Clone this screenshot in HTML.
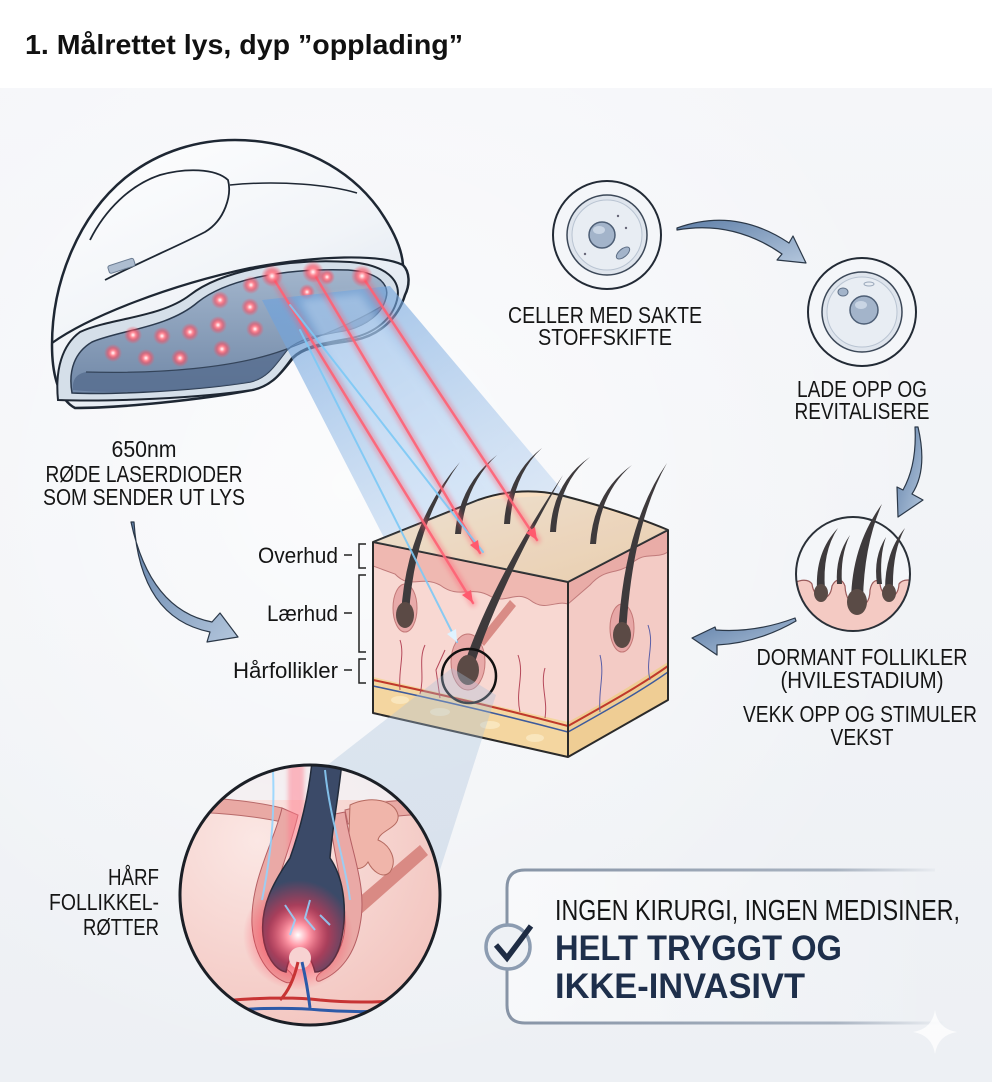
<!DOCTYPE html>
<html><head><meta charset="utf-8"><style>html,body{margin:0;padding:0;background:#fff}svg{display:block}</style></head>
<body>
<svg width="992" height="1087" viewBox="0 0 992 1087" xmlns="http://www.w3.org/2000/svg" font-family="'Liberation Sans', sans-serif">
<defs>
 <linearGradient id="bg" x1="0" y1="0" x2="0" y2="1"><stop offset="0" stop-color="#f5f6f9"/><stop offset="1" stop-color="#edf0f4"/></linearGradient>
 <radialGradient id="bgglow" cx="0.35" cy="0.4" r="0.6"><stop offset="0" stop-color="#fff" stop-opacity="0.7"/><stop offset="1" stop-color="#fff" stop-opacity="0"/></radialGradient>
 <linearGradient id="shell" x1="0" y1="0" x2="0.6" y2="1"><stop offset="0" stop-color="#ffffff"/><stop offset="0.6" stop-color="#f1f4f8"/><stop offset="1" stop-color="#dce4ee"/></linearGradient>
 <linearGradient id="cav" x1="0" y1="0" x2="0" y2="1"><stop offset="0" stop-color="#a2b5cc"/><stop offset="1" stop-color="#7188a7"/></linearGradient>
 <radialGradient id="led"><stop offset="0" stop-color="#fff"/><stop offset="0.3" stop-color="#ff8a96"/><stop offset="0.6" stop-color="#ff4a5c" stop-opacity="0.55"/><stop offset="1" stop-color="#ff4a5c" stop-opacity="0"/></radialGradient>
 <linearGradient id="beam" gradientUnits="userSpaceOnUse" x1="320" y1="290" x2="500" y2="600"><stop offset="0" stop-color="#6ea2dc" stop-opacity="0.65"/><stop offset="1" stop-color="#a9c9ee" stop-opacity="0.25"/></linearGradient>
 <linearGradient id="arr" x1="0" y1="0" x2="1" y2="1"><stop offset="0" stop-color="#5f7fa8"/><stop offset="1" stop-color="#b3c6dc"/></linearGradient>
 <linearGradient id="top" x1="0" y1="0" x2="1" y2="1"><stop offset="0" stop-color="#fae5cd"/><stop offset="1" stop-color="#f4cfa6"/></linearGradient>
 <radialGradient id="zbg" cx="0.3" cy="0.3" r="0.8"><stop offset="0" stop-color="#fbe7e4"/><stop offset="1" stop-color="#f2c3bd"/></radialGradient>
 <radialGradient id="hot"><stop offset="0" stop-color="#fff"/><stop offset="0.2" stop-color="#ff9aa8"/><stop offset="0.55" stop-color="#ff3550" stop-opacity="0.55"/><stop offset="1" stop-color="#ff3550" stop-opacity="0"/></radialGradient>
 <linearGradient id="boxline" x1="0" y1="0" x2="1" y2="0"><stop offset="0" stop-color="#8794a6"/><stop offset="0.75" stop-color="#a9b3c1"/><stop offset="1" stop-color="#a9b3c1" stop-opacity="0"/></linearGradient>
 <linearGradient id="boxfill" x1="0" y1="0" x2="1" y2="0"><stop offset="0" stop-color="#fff" stop-opacity="0.5"/><stop offset="1" stop-color="#fff" stop-opacity="0"/></linearGradient>
 <filter id="b4" x="-50%" y="-50%" width="200%" height="200%"><feGaussianBlur stdDeviation="4"/></filter>
 <filter id="b2" x="-50%" y="-50%" width="200%" height="200%"><feGaussianBlur stdDeviation="2"/></filter>
 <clipPath id="zc"><circle cx="310" cy="895" r="130"/></clipPath>
 <clipPath id="dc"><circle cx="853" cy="574" r="57"/></clipPath>
 <clipPath id="front"><path d="M373,542 L568,582 L568,757 L373,713 Z"/></clipPath>
 <clipPath id="right"><path d="M568,582 L668,530 L668,700 L568,757 Z"/></clipPath>
</defs>

<rect width="992" height="1087" fill="#fff"/>
<rect x="0" y="88" width="992" height="994" fill="url(#bg)"/>
<rect x="0" y="88" width="992" height="994" fill="url(#bgglow)"/>

<text x="25" y="54" font-size="28" font-weight="bold" fill="#111" textLength="438" lengthAdjust="spacingAndGlyphs">1. Målrettet lys, dyp ”opplading”</text>

<!-- HELMET -->
<path d="M75,408 C60,400 52,378 52,345 C52,280 80,215 125,178 C160,150 200,140 235,140 C300,140 350,170 378,208 C395,232 402,250 403,265 C410,272 410,285 405,295 C398,318 380,335 355,340 C325,345 305,346 293,358 C282,372 272,386 252,390 C200,400 120,408 75,408 Z" fill="url(#shell)" stroke="#1e2733" stroke-width="2.5"/>
<path d="M105,280 C140,262 180,245 205,232 C225,220 232,195 228,180 C215,168 185,168 160,175 C130,185 105,210 90,240" fill="none" stroke="#1e2733" stroke-width="1.8"/>
<path d="M230,185 C280,180 330,185 357,193" fill="none" stroke="#1e2733" stroke-width="1.5"/>
<rect x="108" y="262" width="27" height="8" rx="2" transform="rotate(-18 121 266)" fill="#aebdd0" stroke="#6c7d93"/>
<path d="M52,343 C90,316 170,285 250,268 C320,255 380,254 403,265" fill="none" stroke="#1e2733" stroke-width="2.2"/>
<path d="M58,400 C55,370 62,345 80,332 C110,318 160,318 190,295 C222,270 290,258 350,262 C386,265 402,280 397,300 C392,320 374,333 352,338 C326,343 305,345 292,358 C282,372 272,386 252,390 C200,398 110,402 58,400 Z" fill="#d5dfe9" stroke="#1e2733" stroke-width="2"/>
<path d="M72,393 C68,370 75,352 92,342 C120,330 168,328 198,302 C228,278 290,268 348,270 C378,272 390,284 386,298 C382,314 366,325 348,330 C322,335 302,337 287,350 C276,364 268,378 250,382 C200,390 120,395 72,393 Z" fill="url(#cav)" stroke="#2b3a4e" stroke-width="1.5"/>
<path d="M73,390 C72,380 76,374 86,372 C160,374 235,368 284,350 C318,337 352,324 382,306 C378,316 366,325 348,330 C322,335 302,337 287,350 C276,364 268,378 250,382 C200,390 120,395 73,390 Z" fill="#566d8f" opacity="0.8"/>
<path d="M86,372 C160,374 235,368 284,350 C318,337 352,324 382,306" fill="none" stroke="#34445a" stroke-width="1.2"/>
<g>
 <circle cx="113" cy="353" r="9" fill="url(#led)"/><circle cx="133" cy="335" r="9" fill="url(#led)"/>
 <circle cx="146" cy="358" r="9" fill="url(#led)"/><circle cx="162" cy="336" r="9" fill="url(#led)"/>
 <circle cx="180" cy="358" r="9" fill="url(#led)"/><circle cx="190" cy="332" r="9" fill="url(#led)"/>
 <circle cx="220" cy="300" r="9" fill="url(#led)"/><circle cx="218" cy="325" r="9" fill="url(#led)"/>
 <circle cx="222" cy="349" r="9" fill="url(#led)"/><circle cx="250" cy="307" r="9" fill="url(#led)"/>
 <circle cx="255" cy="329" r="9" fill="url(#led)"/><circle cx="251" cy="285" r="9" fill="url(#led)"/>
 <circle cx="307" cy="292" r="8" fill="url(#led)"/><circle cx="327" cy="277" r="8" fill="url(#led)"/>
</g>

<!-- BEAM -->
<path d="M262,300 L390,286 L596,530 L398,565 Z" fill="url(#beam)"/>
<path d="M300,300 L360,294 L520,520 L430,545 Z" fill="#d7e8fb" opacity="0.35" filter="url(#b4)"/>

<!-- CUBE -->
<path d="M373,542 L478,500 C500,492 530,488 560,495 C600,505 640,518 668,530 L568,582 Z" fill="url(#top)"/>
<g clip-path="url(#front)">
 <rect x="370" y="530" width="200" height="230" fill="#f8d8d2"/>
 <path d="M373,542 L568,582 L568,604 C555,600 545,612 530,600 C515,590 505,605 490,596 C470,585 460,600 440,585 C420,575 410,590 395,574 L373,566 Z" fill="#efb8b1" stroke="#c07a7a" stroke-width="1"/>
 <path d="M373,677 C420,688 470,700 568,722 L568,760 L373,720 Z" fill="#f4d6a0"/>
 <ellipse cx="400" cy="700" rx="9" ry="4" fill="#f9e6bd"/><ellipse cx="440" cy="712" rx="10" ry="4" fill="#f9e6bd"/>
 <ellipse cx="490" cy="725" rx="10" ry="4" fill="#f9e6bd"/><ellipse cx="535" cy="738" rx="9" ry="4" fill="#f9e6bd"/>
 <path d="M373,680 C430,692 500,708 568,726" fill="none" stroke="#c0392b" stroke-width="2"/>
 <path d="M373,686 C430,698 500,714 568,732" fill="none" stroke="#3d5a9c" stroke-width="1.5"/>
 <path d="M400,690 C398,670 405,655 400,640 M420,694 C425,675 418,660 425,645 M440,698 L436,670 L445,650 M520,712 C515,690 525,675 518,655 M545,718 C548,700 540,685 545,668" fill="none" stroke="#b5485a" stroke-width="1"/>
 <path d="M478,640 L510,600 L516,606 L484,646 Z" fill="#d98c86"/>
</g>
<g clip-path="url(#right)">
 <rect x="565" y="525" width="106" height="235" fill="#f3cbc5"/>
 <path d="M568,582 L668,530 L668,552 C655,560 645,550 630,565 C615,575 605,568 590,585 L568,604 Z" fill="#e9aca7" stroke="#c07a7a" stroke-width="1"/>
 <path d="M568,722 C600,705 640,680 668,662 L668,705 L568,760 Z" fill="#efcd94"/>
 <path d="M568,726 C600,708 640,686 668,666" fill="none" stroke="#c0392b" stroke-width="2"/>
 <path d="M568,732 C600,714 640,692 668,672" fill="none" stroke="#3d5a9c" stroke-width="1.5"/>
 <path d="M600,712 C598,690 605,675 600,655 M650,680 C645,660 655,645 648,625" fill="none" stroke="#5a5fa8" stroke-width="1"/>
</g>
<path d="M373,542 L478,500 C500,492 530,488 560,495 C600,505 640,518 668,530 L668,700 L568,757 L373,713 Z M373,542 L568,582 L668,530 M568,582 L568,757" fill="none" stroke="#2a2a2a" stroke-width="2" stroke-linejoin="round"/>
<path d="M373,542 L568,582 L668,530 L560,495 L478,500 Z" fill="#9cc3ee" opacity="0.12"/>

<!-- follicles & hairs -->
<ellipse cx="468" cy="662" rx="17" ry="28" fill="#e59f9f" stroke="#b86363" opacity="0.8"/>
<ellipse cx="405" cy="608" rx="12" ry="24" fill="#e59f9f" stroke="#b86363" opacity="0.8"/>
<ellipse cx="622" cy="628" rx="12" ry="24" fill="#e59f9f" stroke="#b86363" opacity="0.8"/>
<g fill="#3e3a3c">
 <path d="M463,668 Q490,585 563,475 Q500,585 473,668 Z"/>
 <path d="M401,615 Q406,525 460,462 Q414,525 409,615 Z"/>
 <path d="M618,635 Q624,525 667,463 Q632,525 626,635 Z"/>
 <path d="M455,534 Q459,485 497,455 Q465,485 461,534 Z"/>
 <path d="M504,524 Q507,475 542,448 Q513,475 510,524 Z"/>
 <path d="M550,532 Q553,482 590,457 Q559,482 556,532 Z"/>
 <path d="M590,544 Q594,492 632,465 Q600,492 596,544 Z"/>
</g>
<ellipse cx="468" cy="670" rx="11" ry="15" fill="#5b4a45"/>
<ellipse cx="405" cy="615" rx="9" ry="13" fill="#5b4a45"/>
<ellipse cx="622" cy="635" rx="9" ry="13" fill="#5b4a45"/>
<circle cx="469" cy="676" r="27" fill="none" stroke="#111" stroke-width="2.5"/>

<!-- LASER LINES -->
<g stroke-linecap="round">
 <g stroke="#ff5a6e" stroke-width="8" opacity="0.35" filter="url(#b2)">
  <line x1="272" y1="276" x2="473" y2="603"/><line x1="313" y1="272" x2="480" y2="553"/><line x1="362" y1="276" x2="537" y2="540"/>
 </g>
 <line x1="272" y1="276" x2="473" y2="603" stroke="#ff6275" stroke-width="2.5" opacity="0.9"/>
 <line x1="313" y1="272" x2="480" y2="553" stroke="#ff6275" stroke-width="2.5" opacity="0.9"/>
 <line x1="362" y1="276" x2="537" y2="540" stroke="#ff6275" stroke-width="2.5" opacity="0.9"/>
 <line x1="290" y1="305" x2="483" y2="552" stroke="#7dc9f6" stroke-width="2" opacity="0.9"/>
 <line x1="300" y1="330" x2="457" y2="642" stroke="#7dc9f6" stroke-width="2" opacity="0.9"/>
</g>
<polygon points="473,603 471,590 462,595" fill="#ff5a6e"/>
<polygon points="480,553 478,540 470,545" fill="#ff5a6e"/>
<polygon points="537,540 535,527 526,533" fill="#ff5a6e"/>
<polygon points="457,642 456,629 447,634" fill="#dff3ff"/>
<circle cx="272" cy="276" r="11" fill="url(#led)"/><circle cx="313" cy="272" r="11" fill="url(#led)"/><circle cx="362" cy="276" r="11" fill="url(#led)"/>

<!-- left labels -->
<g font-size="23.5" fill="#151515" text-anchor="middle">
 <text x="144" y="457" textLength="65" lengthAdjust="spacingAndGlyphs">650nm</text>
 <text x="144" y="482" textLength="197" lengthAdjust="spacingAndGlyphs">RØDE LASERDIODER</text>
 <text x="144" y="505" textLength="202" lengthAdjust="spacingAndGlyphs">SOM SENDER UT LYS</text>
</g>
<path d="M131,522 Q150,610 212,622 L220,613 L238,637 L207,642 L210,632 Q140,618 134,522 Z" fill="url(#arr)" stroke="#2b3848" stroke-width="1.2" stroke-linejoin="round"/>

<g font-size="22.5" fill="#151515" text-anchor="end">
 <text x="338" y="563" textLength="80" lengthAdjust="spacingAndGlyphs">Overhud</text>
 <text x="338" y="621" textLength="71" lengthAdjust="spacingAndGlyphs">Lærhud</text>
 <text x="338" y="678" textLength="105" lengthAdjust="spacingAndGlyphs">Hårfollikler</text>
</g>
<g fill="none" stroke="#222" stroke-width="1.5">
 <path d="M344,555 L352,555 M366,544 L359,544 L359,568 L366,568"/>
 <path d="M344,613 L352,613 M366,575 L359,575 L359,652 L366,652"/>
 <path d="M344,670 L352,670 M366,659 L359,659 L359,683 L366,683"/>
</g>

<!-- CONE -->
<path d="M452,668 L496,695 L440,870 L180,880 Z" fill="#aac0da" opacity="0.35"/>

<!-- ZOOM CIRCLE -->
<g clip-path="url(#zc)">
 <rect x="175" y="760" width="275" height="270" fill="url(#zbg)"/>
 <rect x="175" y="760" width="275" height="40" fill="#f3f4f8" opacity="0.8"/>
 <path d="M175,795 C210,798 250,800 282,808 L282,822 C250,815 210,812 175,812 Z" fill="#e9a9a4" stroke="#b86a6a"/>
 <path d="M345,810 C380,800 420,798 445,800 L445,815 C420,813 385,816 348,824 Z" fill="#e9a9a4" stroke="#b86a6a"/>
 <path d="M350,905 L420,845 L428,855 L360,915 Z" fill="#d98a84"/>
 <path d="M350,805 C370,795 395,800 398,815 C400,828 380,830 378,840 C390,845 398,860 390,872 C382,880 372,870 368,862 C362,872 350,870 348,860 Z" fill="#f0b5aa" stroke="#b56a60"/>
 <path d="M282,808 C275,840 250,880 252,925 C254,955 268,975 285,982 C292,985 296,978 290,972 C275,960 268,940 270,920 C272,890 290,850 298,815 Z" fill="#eaa9a6" stroke="#b55f63"/>
 <path d="M345,812 C350,850 368,885 360,925 C355,955 340,972 322,980 C316,984 314,978 320,973 C335,962 345,945 345,922 C345,890 332,850 330,815 Z" fill="#eaa9a6" stroke="#b55f63"/>
 <rect x="288" y="762" width="16" height="150" fill="#ff7b8c" opacity="0.5" filter="url(#b2)"/>
 <path d="M312,762 L342,762 C338,800 332,830 330,858 C345,880 348,915 340,945 C335,962 325,972 315,972 C312,960 306,950 300,950 C293,950 288,960 286,972 C275,970 265,955 263,935 C260,905 275,880 290,858 C300,830 308,800 312,762 Z" fill="#3b4a68" stroke="#222b3a" stroke-width="1.5"/>
 <circle cx="298" cy="935" r="55" fill="url(#hot)"/>
 <circle cx="300" cy="958" r="11" fill="#f7d2d2"/>
 <path d="M273,770 C275,820 270,860 262,900 M325,770 C330,820 345,860 350,900 M285,905 L295,920 L290,935 M310,900 L305,918 L315,930 M320,915 L330,925" fill="none" stroke="#8fd3ff" stroke-width="2" opacity="0.85"/>
 <path d="M175,1005 C230,1000 280,995 320,1000 C370,1005 410,1000 445,995 M280,1000 C290,990 295,975 298,962" fill="none" stroke="#c73434" stroke-width="3"/>
 <path d="M175,1013 C230,1010 280,1006 320,1010 C370,1014 410,1010 445,1005 M310,1008 C308,990 305,975 302,962" fill="none" stroke="#2d5aa8" stroke-width="3"/>
</g>
<circle cx="310" cy="895" r="130" fill="none" stroke="#1b1f26" stroke-width="3"/>
<g font-size="23" fill="#151515" text-anchor="end">
 <text x="159" y="885" textLength="51" lengthAdjust="spacingAndGlyphs">HÅRF</text>
 <text x="159" y="910" textLength="110" lengthAdjust="spacingAndGlyphs">FOLLIKKEL-</text>
 <text x="159" y="935" textLength="76" lengthAdjust="spacingAndGlyphs">RØTTER</text>
</g>

<!-- CELLS -->
<g>
 <circle cx="607" cy="235" r="54" fill="#f4f6f9" stroke="#222a35" stroke-width="2"/>
 <circle cx="607" cy="235" r="40" fill="#dfe5ed" stroke="#3c4858" stroke-width="1.5"/>
 <circle cx="607" cy="235" r="35" fill="#e8edf3" stroke="#b9c4d2"/>
 <circle cx="602" cy="235" r="13" fill="#a3b4ca" stroke="#4d5e75" stroke-width="1.5"/>
 <ellipse cx="599" cy="230" rx="6" ry="4" fill="#c9d5e4"/>
 <ellipse cx="623" cy="253" rx="8" ry="4" transform="rotate(-40 623 253)" fill="#a3b4ca" stroke="#5d6e85"/>
 <circle cx="618" cy="216" r="1.2" fill="#667"/><circle cx="585" cy="254" r="1.2" fill="#667"/><circle cx="626" cy="228" r="1.2" fill="#667"/>
</g>
<g>
 <circle cx="862" cy="312" r="54" fill="#f4f6f9" stroke="#222a35" stroke-width="2"/>
 <circle cx="862" cy="312" r="40" fill="#dfe5ed" stroke="#3c4858" stroke-width="1.5"/>
 <circle cx="862" cy="312" r="35" fill="#e8edf3" stroke="#b9c4d2"/>
 <circle cx="864" cy="310" r="14" fill="#a3b4ca" stroke="#4d5e75" stroke-width="1.5"/>
 <ellipse cx="861" cy="305" rx="6" ry="4" fill="#c9d5e4"/>
 <ellipse cx="843" cy="292" rx="5" ry="4" fill="#a3b4ca" stroke="#5d6e85"/>
 <ellipse cx="869" cy="284" rx="5" ry="2" fill="none" stroke="#9aa8ba"/>
</g>
<path d="M677,228 Q735,207 789,243 L793,236 L806,263 L777,260 L782,254 Q733,220 677,230 Z" fill="url(#arr)" stroke="#2b3848" stroke-width="1.2" stroke-linejoin="round"/>
<path d="M918,427 Q928,470 912,494 L923,500 L898,517 L897,487 L903,490 Q917,465 915,427 Z" fill="url(#arr)" stroke="#2b3848" stroke-width="1.2" stroke-linejoin="round"/>
<path d="M795,618 Q755,633 716,630 L715,627 L692,638 L717,655 L717,645 Q758,643 796,621 Z" fill="url(#arr)" stroke="#2b3848" stroke-width="1.2" stroke-linejoin="round"/>

<!-- DORMANT -->
<circle cx="853" cy="574" r="57" fill="#f4f6f9"/>
<g clip-path="url(#dc)">
 <path d="M790,584 C800,580 808,578 812,584 C814,600 830,604 832,586 C836,578 842,578 845,586 C846,612 870,614 870,590 C872,580 878,578 880,584 C882,600 898,602 899,584 C903,578 912,580 920,582 L920,640 L790,640 Z" fill="#f4cac3" stroke="#9a5a5a" stroke-width="1.2"/>
</g>
<circle cx="853" cy="574" r="57" fill="none" stroke="#2a3038" stroke-width="2"/>
<g fill="#3e3a3c">
 <path d="M851,600 Q852,545 882,504 Q864,545 863,600 Z"/>
 <path d="M817,590 Q815,552 838,528 Q822,552 825,590 Z"/>
 <path d="M837,584 Q835,556 850,535 Q840,556 842,584 Z"/>
 <path d="M877,584 Q873,557 886,537 Q879,557 882,584 Z"/>
 <path d="M885,590 Q885,552 905,528 Q892,552 893,590 Z"/>
</g>
<ellipse cx="821" cy="593" rx="7" ry="9" fill="#5a4b46"/>
<ellipse cx="857" cy="602" rx="10" ry="13" fill="#5a4b46"/>
<ellipse cx="889" cy="593" rx="7" ry="9" fill="#5a4b46"/>

<!-- right labels -->
<g font-size="23.5" fill="#151515" text-anchor="middle">
 <text x="605" y="323" textLength="194" lengthAdjust="spacingAndGlyphs">CELLER MED SAKTE</text>
 <text x="605" y="345" textLength="134" lengthAdjust="spacingAndGlyphs">STOFFSKIFTE</text>
 <text x="862" y="397" textLength="130" lengthAdjust="spacingAndGlyphs">LADE OPP OG</text>
 <text x="862" y="419" textLength="135" lengthAdjust="spacingAndGlyphs">REVITALISERE</text>
 <text x="862" y="665" textLength="211" lengthAdjust="spacingAndGlyphs">DORMANT FOLLIKLER</text>
 <text x="862" y="688" textLength="163" lengthAdjust="spacingAndGlyphs">(HVILESTADIUM)</text>
 <text x="860" y="722" textLength="234" lengthAdjust="spacingAndGlyphs">VEKK OPP OG STIMULER</text>
 <text x="862" y="745" textLength="63" lengthAdjust="spacingAndGlyphs">VEKST</text>
</g>

<!-- BOX -->
<rect x="507" y="870" width="440" height="153" rx="18" fill="url(#boxfill)"/>
<path d="M935,870 L525,870 Q507,870 507,888 L507,1005 Q507,1023 525,1023 L945,1023" fill="none" stroke="url(#boxline)" stroke-width="3"/>
<circle cx="508" cy="947" r="22" fill="#eef1f5" stroke="#8c9cb1" stroke-width="3.5"/>
<polyline points="496,945 507,958 531,926" fill="none" stroke="#1e2c44" stroke-width="5.5" stroke-linejoin="miter"/>
<text x="555" y="920" font-size="29" fill="#151515" textLength="405" lengthAdjust="spacingAndGlyphs">INGEN KIRURGI, INGEN MEDISINER,</text>
<text x="555" y="960" font-size="35" font-weight="bold" fill="#1e2f4b" textLength="287" lengthAdjust="spacingAndGlyphs">HELT TRYGGT OG</text>
<text x="555" y="998" font-size="35" font-weight="bold" fill="#1e2f4b" textLength="250" lengthAdjust="spacingAndGlyphs">IKKE-INVASIVT</text>
<path d="M935,1010 Q938,1029 957,1032 Q938,1035 935,1054 Q932,1035 913,1032 Q932,1029 935,1010 Z" fill="#fff" opacity="0.75"/>
</svg>
</body></html>
